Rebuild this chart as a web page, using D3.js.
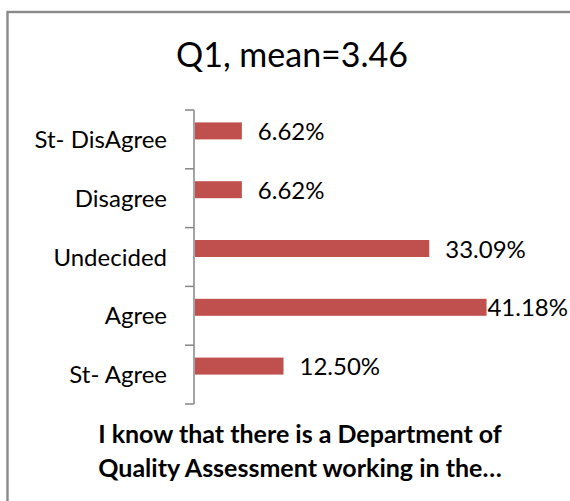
<!DOCTYPE html>
<meta charset="utf-8">
<head><title>Q1 mean chart</title>
<style>
body { margin: 0; background: #fff; }
svg text { font-family: Lato, "Noto Sans", sans-serif; fill: #000; }
</style>
</head>
<body>
<svg width="570" height="501"></svg>
<script src="https://d3js.org/d3.v7.min.js"></script>
<script>

// data
var categories = ["St- DisAgree", "Disagree", "Undecided", "Agree", "St- Agree"];
var percents   = [6.62, 6.62, 33.09, 41.18, 12.50];
var chartTitle = "Q1, mean=3.46";
var axisTitle  = ["I know that there is a Department of", "Quality Assessment working in the\u2026"];

var svg = d3.select("svg"),
    width = +svg.attr("width"),
    height = +svg.attr("height");

var rows = categories.map(function(c, i) { return { cat: c, value: percents[i] }; });

// chart frame (runs off the right and bottom of the picture)
svg.append("rect")
    .attr("x", 7.5).attr("y", 12)
    .attr("width", 590).attr("height", 520)
    .attr("fill", "none")
    .attr("stroke", "#8a8a8a")
    .attr("stroke-width", 2.4);

// scales
var y = d3.scaleBand()
    .domain(categories)
    .range([110, 404])
    .paddingInner(0).paddingOuter(0);

// excel leaves room for an empty second series under each bar
var ySlot = d3.scaleBand()
    .domain(["pct", "blank"])
    .range([0, y.bandwidth()])
    .paddingInner(0)
    .paddingOuter(0.73);

var x = d3.scaleLinear()
    .domain([0, 50])
    .range([195, 549]);

// title
svg.append("text")
    .attr("x", 292).attr("y", 67)
    .attr("text-anchor", "middle")
    .style("font-size", "34px")
    .text(chartTitle);

// bars
var g = svg.append("g").attr("class", "bars");
g.selectAll("rect")
    .data(rows)
    .enter().append("rect")
      .attr("x", x(0))
      .attr("y", function(d) { return y(d.cat) + ySlot("pct"); })
      .attr("width", function(d) { return x(d.value) - x(0); })
      .attr("height", ySlot.bandwidth())
      .attr("fill", "#c0504d");

// value labels, pulled back in when they would run off the edge
var labels = svg.append("g").attr("class", "values")
    .selectAll("text")
    .data(rows)
    .enter().append("text")
      .attr("y", function(d) { return y(d.cat) + ySlot("pct") + ySlot.bandwidth() / 2 + 9; })
      .style("font-size", "24px")
      .text(function(d) { return d.value.toFixed(2) + "%"; });

labels.attr("x", function(d) {
    var w = this.getComputedTextLength();
    var pos = x(d.value) + 16;
    if (pos + w > width - 2) pos = width - 2 - w;
    return pos;
});

// category axis: labels at band centres, ticks at band edges
var yAxis = svg.append("g")
    .attr("transform", "translate(" + 194 + ",0)")
    .call(d3.axisLeft(y).tickSize(0).tickPadding(27));
yAxis.select(".domain").remove();
yAxis.selectAll("text")
    .style("font-size", "24px")
    .style("font-family", "Lato, 'Noto Sans', sans-serif")
    .attr("dy", "0.36em");

var edges = categories.map(function(c) { return y(c); }).concat([y.range()[1]]);
var axisG = svg.append("g").attr("class", "axisline");
axisG.append("line")
    .attr("x1", 194).attr("x2", 194)
    .attr("y1", edges[0]).attr("y2", edges[edges.length - 1])
    .attr("stroke", "#868686").attr("stroke-width", 1.5);
axisG.selectAll("line.tick")
    .data(edges)
    .enter().append("line")
      .attr("class", "tick")
      .attr("x1", 185).attr("x2", 194)
      .attr("y1", function(d) { return d; })
      .attr("y2", function(d) { return d; })
      .attr("stroke", "#868686").attr("stroke-width", 1.5);

// axis title under the plot
svg.append("g").selectAll("text")
    .data(axisTitle)
    .enter().append("text")
      .attr("x", 300)
      .attr("y", function(d, i) { return 443 + i * 33.5; })
      .attr("text-anchor", "middle")
      .style("font-size", "25px")
      .style("font-weight", "bold")
      .text(function(d) { return d; });

</script>
</body>
